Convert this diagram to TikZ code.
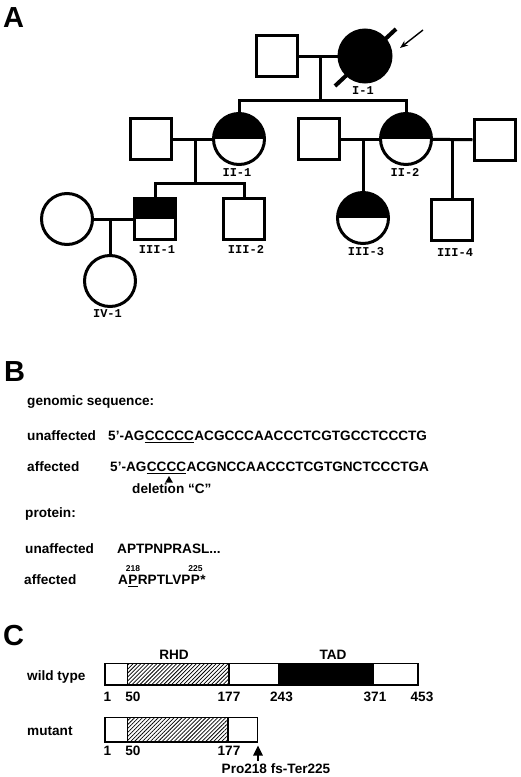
\documentclass[tikz,border=0pt]{standalone}
\usepackage{fontspec}
\setmainfont{Liberation Sans}
\newfontfamily\pedfont{Liberation Mono}
\usetikzlibrary{arrows.meta,patterns.meta}
\begin{document}
\begin{tikzpicture}[x=1pt,y=-1pt,
  ped/.style={line width=3pt},
  male/.style={draw, line width=3pt, rectangle, minimum size=41pt, inner sep=0pt},
  female/.style={draw, line width=3pt, circle, minimum size=51pt, inner sep=0pt},
  halfaff/.style={path picture={\fill[black] (path picture bounding box.north west) rectangle (path picture bounding box.east);}},
  pedlabel/.style={font=\pedfont\bfseries\fontsize{12}{12}\selectfont, inner sep=0pt, anchor=base},
  panel/.style={font=\bfseries\fontsize{29}{29}\selectfont, inner sep=0pt, anchor=base west},
  txt/.style={font=\bfseries\fontsize{13.6}{14}\selectfont, inner sep=0pt, anchor=base west},
  num/.style={font=\bfseries\fontsize{13.6}{14}\selectfont, inner sep=0pt, anchor=base},
  sup/.style={font=\bfseries\fontsize{8.5}{9}\selectfont, inner sep=0pt, anchor=base},
  bar/.style={draw, line width=1.4pt},
  hatch/.style={pattern={Lines[angle=45,distance=2.8pt,line width=0.75pt]}},
]
\useasboundingbox (0,0) rectangle (520,777);

% ---------------- Panel A ----------------
\node[panel] (pA) at (3,27) {A};

% generation I
\node[male] (I1m) at (277,56) {};
\node[female, fill=black, minimum size=52pt] (I1) at (365,56) {};
\draw[line width=4pt] (335,86) -- (396,29);
\draw[-{Stealth[width=6pt,length=8pt]}, line width=1.4pt] (423,30) -- (400,48);
\node[pedlabel] (lI1) at (363,94) {I-1};
\draw[ped] (I1m) -- (I1);
\coordinate (cI) at (320,56);
\coordinate (sI) at (320,100);
\draw[ped] (cI) -- (sI);

% generation II
\node[male] (II1m) at (151,139) {};
\node[female, halfaff] (II1) at (239,139) {};
\node[male] (II2m) at (318.5,139) {};
\node[female, halfaff] (II2) at (406,139) {};
\node[male] (II2h) at (494.5,140) {};
\node[pedlabel] (lII1) at (237,176) {II-1};
\node[pedlabel] (lII2) at (405,176) {II-2};
\draw[ped] (II1.north) -- (II1.north |- sI) -- (II2.north |- sI) -- (II2.north);
\draw[ped] (II1m) -- (II1);
\draw[ped] (II2m) -- (II2);
\draw[ped] (II2) -- (II2h);
\coordinate (cII1) at (195,139);
\coordinate (sII1) at (195,183);
\draw[ped] (cII1) -- (sII1);

% generation III
\node[male, halfaff] (III1) at (155,219) {};
\node[male] (III2) at (244,219) {};
\node[female, halfaff] (III3) at (363,218) {};
\node[male] (III4) at (452,220) {};
\node[pedlabel] (lIII1) at (157,253) {III-1};
\node[pedlabel] (lIII2) at (246,253) {III-2};
\node[pedlabel] (lIII3) at (366,255) {III-3};
\node[pedlabel] (lIII4) at (455,256) {III-4};
\draw[ped] (III1.north) -- (III1.north |- sII1) -- (III2.north |- sII1) -- (III2.north);
\draw[ped] (III3.north) -- (III3.north |- II2m.center);
\draw[ped] (III4.north) -- (III4.north |- II2h.center);

% generation IV
\node[female] (IVs) at (67,219) {};
\node[female] (IV1) at (110,281) {};
\node[pedlabel] (lIV1) at (107.5,317) {IV-1};
\draw[ped] (IVs) -- (III1);
\draw[ped] (IV1.north) -- (IV1.north |- III1.center);

% ---------------- Panel B ----------------
\node[panel] (pB) at (4,381.5) {B};
\node[txt] (gs) at (27,405) {genomic sequence:};

\node[txt] (u1) at (27,440) {unaffected};
\node[txt] (u1a) at (108,440) {5’-AG};
\node[txt] (u1b) at (u1a.base east) {CCCCC};
\node[txt] (u1c) at (u1b.base east) {ACGCCCAACCCTCGTGCCTCCCTG};
\draw[line width=1.1pt] ([yshift=-2.7pt]u1b.base west) -- ([yshift=-2.7pt]u1b.base east);

\node[txt] (a1) at (27,471) {affected};
\node[txt] (a1a) at (110,471) {5’-AG};
\node[txt] (a1b) at (a1a.base east) {CCCC};
\node[txt] (a1c) at (a1b.base east) {ACGNCCAACCCTCGTGNCTCCCTGA};
\draw[line width=1.1pt] ([yshift=-2.5pt]a1b.base west) -- ([yshift=-2.5pt]a1b.base east);
\fill (169,476) -- (172.8,482.5) -- (165.2,482.5) -- cycle;
\node[txt] (del) at (132,493) {deletion “C”};

\node[txt] (prot) at (25,517) {protein:};
\node[txt] (u2) at (25,553) {unaffected};
\node[txt] (u2s) at (117,553) {APTPNPRASL...};
\node[txt] (a2) at (24,584) {affected};
\node[txt] (a2a) at (118,584) {A};
\node[txt] (a2b) at (a2a.base east) {P};
\node[txt] (a2c) at (a2b.base east) {RPTLVP};
\node[txt] (a2d) at (a2c.base east) {P};
\node[txt] (a2e) at (a2d.base east) {*};
\draw[line width=1.1pt] ([yshift=-2.3pt]a2b.base west) -- ([yshift=-2.3pt]a2b.base east);
\node[sup] (s218) at ([yshift=13pt]a2b.base) {218};
\node[sup] (s225) at ([yshift=13pt]a2d.base) {225};

% ---------------- Panel C ----------------
\node[panel] (pC) at (3,645) {C};
\node[num] (rhd) at (174,659) {RHD};
\node[num] (tad) at (333,659) {TAD};
\node[txt] (wt) at (27,680) {wild type};
\draw[bar] (105,663.5) rectangle (127.5,685);
\draw[bar, hatch] (127.5,663.5) rectangle (229,685);
\draw[bar] (229,663.5) rectangle (279,685);
\draw[bar, fill=black] (279,663.5) rectangle (373,685);
\draw[bar] (373,663.5) rectangle (418,685);
\node[num] (w1) at (107.5,701.5) {1};
\node[num] (w50) at (133,701.5) {50};
\node[num] (w177) at (229,701.5) {177};
\node[num] (w243) at (281.5,701.5) {243};
\node[num] (w371) at (375,701.5) {371};
\node[num] (w453) at (422,701.5) {453};

\node[txt] (mu) at (27,735) {mutant};
\draw[bar] (105,717.5) rectangle (127.5,742);
\draw[bar, hatch] (127.5,717.5) rectangle (228,742);
\draw[bar] (228,717.5) rectangle (257.5,742);
\node[num] (m1) at (107.5,755) {1};
\node[num] (m50) at (133,755) {50};
\node[num] (m177) at (229,755) {177};
\coordinate (mtail) at (258,761);
\coordinate (mtip) at (258,745.5);
\draw[-{Triangle[width=9.5pt,length=10pt]}, line width=1.3pt] (mtail) -- (mtip);
\node[num] (fs) at (276,773) {Pro218 fs-Ter225};
\end{tikzpicture}
\end{document}
